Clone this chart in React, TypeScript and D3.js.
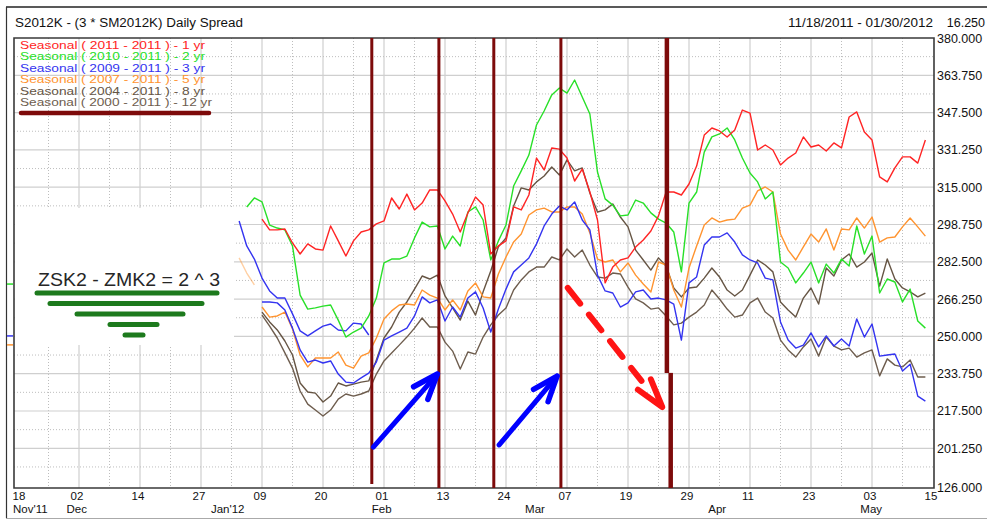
import { useEffect, useRef } from 'react'
import * as d3 from 'd3'

const WIDTH = 987
const HEIGHT = 520
const FONT = "'Liberation Sans', Arial, sans-serif"

// x axis: one label every 8 trading days
const xTickLabels = ['18', '02', '14', '27', '09', '20', '01', '13', '24', '07', '19', '29', '11', '23', '03', '15']
const xTickStep = 8
const monthLabels = [
  { label: "Nov'11", at: 0 },
  { label: 'Dec', at: 7.7 },
  { label: "Jan'12", at: 27.5 },
  { label: 'Feb', at: 47.7 },
  { label: 'Mar', at: 67.8 },
  { label: 'Apr', at: 91.7 },
  { label: 'May', at: 111.9 },
]
const yTicks = [380, 363.75, 347.5, 331.25, 315, 298.75, 282.5, 266.25, 250, 233.75, 217.5, 201.25]
const yBottomLabel = '126.000'

// seasonal series, one value per trading day, starting at the given index
const seasonal1yr = [
  301.1, 296.4, 296.4, 296.8, 290.7, 285.9, 290.3, 288.1, 287.6, 298.1,
  291.6, 285.0, 291.6, 295.5, 296.4, 299.0, 300.3, 310.3, 305.5, 312.0,
  305.1, 308.1, 313.8, 313.8, 309.0, 303.3, 295.5, 303.8, 310.7, 307.2,
  285.9, 289.4, 291.6, 306.4, 305.1, 311.6, 327.7, 322.5, 332.1, 331.6,
  327.7, 317.7, 322.9, 312.9, 300.7, 273.3, 280.2, 283.3, 284.2, 288.9,
  292.0, 295.9, 302.5, 312.9, 312.9, 311.6, 316.4, 324.2, 337.7, 340.8,
  339.5, 336.9, 339.9, 348.6, 347.3, 331.2, 333.4, 331.2, 324.7, 327.7,
  329.9, 336.9, 332.5, 333.4, 330.8, 334.3, 332.1, 345.6, 347.8, 339.0,
  335.6, 319.5, 317.3, 323.4, 328.2, 328.2, 325.5, 335.6,
]
const seasonal2yr = [
  306.4, 310.3, 308.6, 298.5, 297.2, 296.4, 289.4, 268.0, 261.9, 262.4,
  263.2, 263.7, 257.1, 249.7, 251.9, 253.6, 258.9, 266.7, 282.0, 283.7,
  283.7, 285.0, 292.9, 299.8, 297.7, 298.1, 288.1, 293.7, 289.4, 304.2,
  306.4, 300.7, 283.3, 291.6, 298.5, 315.5, 322.1, 329.0, 342.1, 348.2,
  355.2, 358.2, 356.0, 361.7, 354.3, 346.9, 321.6, 309.9, 307.2, 302.5,
  302.9, 309.4, 308.1, 303.8, 301.1, 299.4, 295.5, 278.1, 308.1, 312.9,
  330.3, 336.9, 338.2, 340.8, 335.6, 327.7, 321.2, 317.3, 309.9, 312.9,
  282.4, 279.8, 273.3, 277.6, 282.4, 273.3, 281.5, 277.6, 283.7, 280.7,
  298.1, 285.9, 293.7, 268.9, 275.0, 273.7, 265.0, 270.6, 256.7, 253.6,
]
const seasonal3yr = [
  265.0, 265.0, 264.6, 261.5, 253.6, 244.1, 238.8, 239.7, 238.4, 239.3,
  233.6, 230.1, 229.7, 231.9, 234.0, 238.8, 248.4, 250.2, 251.9, 253.6,
  258.9, 267.2, 264.6, 265.9, 256.7, 262.8, 258.4, 266.7, 269.4, 262.4,
  251.9, 261.9, 270.6, 278.1, 281.1, 284.2, 290.3, 298.1, 303.3, 306.8,
  305.1, 308.6, 300.7, 296.4, 276.7, 269.8, 268.9, 262.8, 264.6, 269.4,
  270.2, 266.3, 266.7, 265.9, 264.1, 248.4, 273.3, 275.9, 289.8, 293.3,
  293.3, 295.1, 291.1, 285.5, 283.3, 282.0, 275.4, 274.6, 256.3, 248.4,
  244.9, 246.2, 251.5, 245.4, 250.2, 245.8, 248.9, 245.8, 257.6, 249.7,
  255.4, 241.4, 241.9, 242.3, 234.9, 237.9, 224.0, 221.8,
]
const seasonal5yr = [
  262.8, 258.4, 258.9, 260.6, 253.2, 241.9, 236.7, 240.6, 240.6, 240.6,
  243.2, 237.5, 236.2, 241.4, 242.8, 249.3, 257.6, 261.1, 263.7, 264.1,
  263.7, 270.2, 268.0, 266.7, 261.5, 265.9, 261.5, 269.8, 273.3, 267.2,
  266.7, 277.2, 284.6, 291.1, 294.6, 302.9, 305.1, 305.9, 304.2, 304.2,
  306.4, 306.4, 303.3, 295.1, 283.7, 282.4, 283.3, 278.1, 282.0, 276.7,
  272.8, 269.3, 282.4, 281.1, 270.2, 262.8, 279.8, 289.4, 298.5, 301.6,
  299.8, 300.7, 301.1, 305.9, 307.2, 313.4, 315.1, 312.9, 294.6, 287.6,
  283.3, 289.0, 294.6, 291.1, 296.8, 287.6, 296.8, 296.4, 301.6, 297.2,
  302.0, 291.1, 292.9, 293.3, 297.7, 301.6, 297.7, 293.7,
]
const seasonal8yr = [
  260.6, 256.3, 252.8, 248.0, 241.9, 229.7, 225.8, 225.3, 221.4, 224.0,
  229.7, 228.4, 229.2, 230.1, 230.6, 239.7, 249.3, 254.1, 260.6, 265.0,
  270.6, 276.3, 275.0, 276.7, 267.6, 262.4, 257.1, 265.4, 259.3, 269.4,
  278.5, 289.0, 292.9, 306.8, 314.7, 313.8, 317.3, 319.9, 323.8, 320.3,
  326.9, 322.1, 323.4, 312.5, 304.2, 305.1, 307.7, 302.0, 297.7, 287.6,
  283.3, 278.9, 284.2, 280.7, 271.1, 267.2, 271.1, 271.5, 275.4, 279.8,
  275.9, 270.2, 267.6, 270.2, 276.7, 283.3, 281.1, 278.1, 265.0, 261.5,
  258.4, 266.7, 271.1, 264.1, 279.8, 276.3, 283.3, 285.9, 280.2, 282.4,
  286.3, 271.9, 283.7, 275.0, 271.1, 269.4, 267.2, 268.9,
]
const seasonal12yr = [
  259.3, 254.5, 249.3, 242.8, 236.2, 226.2, 220.5, 217.9, 215.3, 217.9,
  222.7, 224.9, 224.0, 224.9, 226.2, 233.6, 239.3, 242.8, 246.2, 249.7,
  253.6, 258.0, 254.1, 254.1, 247.5, 243.6, 235.8, 243.2, 242.3, 249.7,
  255.0, 259.3, 262.4, 270.2, 274.6, 278.1, 280.2, 280.2, 284.6, 283.3,
  288.1, 284.6, 287.6, 281.1, 275.9, 275.4, 277.6, 277.2, 271.5, 266.3,
  264.6, 261.9, 262.4, 258.9, 255.0, 255.8, 258.4, 260.6, 263.7, 270.2,
  266.3, 261.9, 258.4, 259.3, 264.6, 266.7, 260.6, 258.0, 248.4, 244.1,
  241.0, 245.4, 248.9, 241.4, 249.7, 245.8, 244.1, 244.9, 241.0, 242.8,
  244.1, 232.8, 240.2, 237.5, 236.7, 239.7, 232.3, 232.3,
]
// fragments left over from the pasted screenshot
const ghost3yr = [300.3, 289.4, 283.7, 275.4, 269.8, 266.7, 266.7, 259.8, 252.4, 250.2, 252.4, 254.5, 255.4, 252.8, 252.4, 255.8, 255.4, 250.6]
const ghost5yr = [284.2, 277.6, 272.4]

const series = [
  { label: 'Seasonal ( 2011 - 2011 ) - 1 yr', color: '#ff2424', start: 32, values: seasonal1yr },
  { label: 'Seasonal ( 2010 - 2011 ) - 2 yr', color: '#28e028', start: 30, values: seasonal2yr },
  { label: 'Seasonal ( 2009 - 2011 ) - 3 yr', color: '#3434f0', start: 32, values: seasonal3yr },
  { label: 'Seasonal ( 2007 - 2011 ) - 5 yr', color: '#ff9430', start: 32, values: seasonal5yr },
  { label: 'Seasonal ( 2004 - 2011 ) - 8 yr', color: '#665544', start: 32, values: seasonal8yr },
  { label: 'Seasonal ( 2000 - 2011 ) - 12 yr', color: '#6e5d4e', start: 32, values: seasonal12yr },
]

// hand-drawn annotations (trading-day index, price)
const markerIdx = [46.4, 55.2, 62.4, 71.2]
const lastMarker = { upperIdx: 85.1, lowerIdx: 85.6, breakAt: 234.1 }
const blueArrows = [
  { from: [46.6, 201.8], to: [55.0, 233.6] },
  { from: [63.1, 202.7], to: [70.7, 232.7] },
]
const redArrow = { from: [72.1, 271.1], to: [84.5, 219.2] }
const edgeMarks = [
  { value: 272.8, color: '#28e028' },
  { value: 250.2, color: '#3434f0' },
  { value: 246.3, color: '#ff9430' },
]
const noteText = 'ZSK2 - ZMK2 = 2 ^ 3'
const noteBars = [
  [37, 217],
  [50, 202],
  [77, 183],
  [110, 157],
  [125, 143],
]

export default function App() {
  const svgRef = useRef<SVGSVGElement>(null)

  useEffect(() => {
    if (!svgRef.current) return
    const svg = d3.select(svgRef.current)
    svg.selectAll('*').remove()

    const plot = { left: 14, right: 934, top: 38, bottom: 488 }
    const x = d3.scaleLinear().domain([0, 120]).range([18, 933])
    const y = d3.scaleLinear().domain([183.95, 380]).range([plot.bottom, plot.top])

    svg.append('rect').attr('width', WIDTH).attr('height', HEIGHT).attr('fill', '#fff')

    // outer frame
    svg.append('line').attr('x1', 6).attr('x2', WIDTH).attr('y1', 7).attr('y2', 7)
      .attr('stroke', '#222').attr('stroke-width', 1.5)
    svg.append('line').attr('x1', 6.5).attr('x2', 6.5).attr('y1', 7).attr('y2', 518)
      .attr('stroke', '#333').attr('stroke-width', 1.2)
    svg.append('line').attr('x1', 6).attr('x2', WIDTH).attr('y1', 518.5).attr('y2', 518.5)
      .attr('stroke', '#aaa').attr('stroke-width', 1)

    // titles
    svg.append('text').attr('x', 15).attr('y', 27).attr('font-size', 12.5).attr('font-family', FONT)
      .attr('fill', '#111').attr('textLength', 228).attr('lengthAdjust', 'spacingAndGlyphs')
      .text('S2012K - (3 * SM2012K) Daily  Spread')
    svg.append('text').attr('x', 788).attr('y', 27).attr('font-size', 12.5).attr('font-family', FONT)
      .attr('fill', '#111').attr('textLength', 145).attr('lengthAdjust', 'spacingAndGlyphs')
      .text('11/18/2011 - 01/30/2012')
    svg.append('text').attr('x', 985).attr('y', 27).attr('font-size', 12.5).attr('font-family', FONT)
      .attr('text-anchor', 'end').attr('fill', '#111').text('16.250')

    const defs = svg.append('defs')
    defs.append('clipPath').attr('id', 'plot-clip').append('rect')
      .attr('x', plot.left).attr('y', plot.top)
      .attr('width', plot.right - plot.left).attr('height', plot.bottom - plot.top)

    // grid
    const grid = svg.append('g')
    d3.range(1, xTickLabels.length - 1).forEach((k) => {
      const gx = x(k * xTickStep)
      grid.append('line').attr('x1', gx).attr('x2', gx).attr('y1', plot.top).attr('y2', plot.bottom)
        .attr('stroke', '#cfcfcf').attr('stroke-width', 1.2)
    })
    d3.range(0, xTickLabels.length - 1).forEach((k) => {
      const gx = x(k * xTickStep + xTickStep / 2)
      grid.append('line').attr('x1', gx).attr('x2', gx).attr('y1', plot.top).attr('y2', plot.bottom)
        .attr('stroke', '#bdbdbd').attr('stroke-dasharray', '1,2')
    })
    yTicks.forEach((t, i) => {
      if (i > 0) {
        grid.append('line').attr('x1', plot.left).attr('x2', plot.right).attr('y1', y(t)).attr('y2', y(t))
          .attr('stroke', '#cfcfcf').attr('stroke-width', 1.2)
      }
      const m = t - 8.125
      grid.append('line').attr('x1', plot.left).attr('x2', plot.right).attr('y1', y(m)).attr('y2', y(m))
        .attr('stroke', '#bdbdbd').attr('stroke-dasharray', '1,2')
    })

    // pasted note covering the left part of the plot
    svg.append('rect').attr('x', plot.left + 1).attr('y', 208).attr('width', 219).attr('height', 137).attr('fill', '#fff')
    svg.append('text').attr('x', 38).attr('y', 286).attr('font-size', 18).attr('font-family', FONT)
      .attr('fill', '#262626').attr('textLength', 182).attr('lengthAdjust', 'spacingAndGlyphs').text(noteText)
    noteBars.forEach(([x1, x2], i) => {
      const by = 293 + i * 10.5
      svg.append('line').attr('x1', x1).attr('x2', x2).attr('y1', by).attr('y2', by)
        .attr('stroke', '#1d7a1d').attr('stroke-width', 5).attr('stroke-linecap', 'round')
    })

    // series
    const lines = svg.append('g').attr('clip-path', 'url(#plot-clip)')
    const drawSeries = (values: number[], start: number, color: string, opacity = 1) => {
      const line = d3.line<number>().x((_, i) => x(start + i)).y((d) => y(d))
      lines.append('path').attr('d', line(values)).attr('fill', 'none').attr('stroke', color)
        .attr('stroke-width', 1.4).attr('stroke-linejoin', 'round').attr('opacity', opacity)
    }
    drawSeries(ghost5yr, 29, series[3].color, 0.45)
    drawSeries(ghost3yr, 29, series[2].color)
    series.slice().reverse().forEach((s) => drawSeries(s.values, s.start, s.color))

    // left edge marks
    edgeMarks.forEach((m) => {
      svg.append('line').attr('x1', 7).attr('x2', 13).attr('y1', y(m.value)).attr('y2', y(m.value))
        .attr('stroke', m.color).attr('stroke-width', 1.5)
    })

    // plot frame
    svg.append('path')
      .attr('d', `M${plot.left},${plot.bottom}V${plot.top}H${plot.right}V${plot.bottom}Z`)
      .attr('fill', 'none').attr('stroke', '#3a3a3a').attr('stroke-width', 1.6)

    // legend
    series.forEach((s, i) => {
      svg.append('text').attr('x', 20).attr('y', 49 + i * 11.4).attr('font-size', 11)
        .attr('font-family', FONT).attr('fill', s.color)
        .attr('textLength', i === series.length - 1 ? 192 : 185).attr('lengthAdjust', 'spacingAndGlyphs')
        .text(s.label)
    })
    svg.append('line').attr('x1', 21).attr('x2', 209).attr('y1', 113).attr('y2', 113)
      .attr('stroke', '#7d0a0a').attr('stroke-width', 4.5).attr('stroke-linecap', 'round')

    // vertical markers
    markerIdx.forEach((m, i) => {
      svg.append('line').attr('x1', x(m)).attr('x2', x(m)).attr('y1', plot.top)
        .attr('y2', i === 0 ? plot.bottom - 4 : plot.bottom)
        .attr('stroke', '#7d0a0a').attr('stroke-width', 3)
    })
    svg.append('line').attr('x1', x(lastMarker.upperIdx)).attr('x2', x(lastMarker.upperIdx))
      .attr('y1', plot.top).attr('y2', y(lastMarker.breakAt))
      .attr('stroke', '#7d0a0a').attr('stroke-width', 4.5)
    svg.append('line').attr('x1', x(lastMarker.lowerIdx)).attr('x2', x(lastMarker.lowerIdx))
      .attr('y1', y(lastMarker.breakAt)).attr('y2', plot.bottom)
      .attr('stroke', '#7d0a0a').attr('stroke-width', 4.5)

    // arrows
    const head = (tip: number[], from: number[], len: number, ang: number) => {
      const a = Math.atan2(tip[1] - from[1], tip[0] - from[0])
      const p1 = [tip[0] - len * Math.cos(a - ang), tip[1] - len * Math.sin(a - ang)]
      const p2 = [tip[0] - len * Math.cos(a + ang), tip[1] - len * Math.sin(a + ang)]
      return `M${p1[0]},${p1[1]}L${tip[0]},${tip[1]}L${p2[0]},${p2[1]}`
    }
    blueArrows.forEach((ar) => {
      const p0 = [x(ar.from[0]), y(ar.from[1])]
      const p1 = [x(ar.to[0]), y(ar.to[1])]
      svg.append('line').attr('x1', p0[0]).attr('y1', p0[1]).attr('x2', p1[0]).attr('y2', p1[1])
        .attr('stroke', '#0000ff').attr('stroke-width', 5).attr('stroke-linecap', 'round')
      svg.append('path').attr('d', head(p1, p0, 27, 0.36)).attr('fill', 'none')
        .attr('stroke', '#0000ff').attr('stroke-width', 5.5).attr('stroke-linecap', 'round').attr('stroke-linejoin', 'round')
    })
    {
      const p0 = [x(redArrow.from[0]), y(redArrow.from[1])]
      const p1 = [x(redArrow.to[0]), y(redArrow.to[1])]
      const pe = [p0[0] + (p1[0] - p0[0]) * 0.78, p0[1] + (p1[1] - p0[1]) * 0.78]
      svg.append('line').attr('x1', p0[0]).attr('y1', p0[1]).attr('x2', pe[0]).attr('y2', pe[1])
        .attr('stroke', '#ff1414').attr('stroke-width', 6).attr('stroke-linecap', 'round')
        .attr('stroke-dasharray', '20,14')
      svg.append('path').attr('d', head(p1, p0, 30, 0.28)).attr('fill', 'none')
        .attr('stroke', '#ff1414').attr('stroke-width', 6).attr('stroke-linecap', 'round').attr('stroke-linejoin', 'round')
    }

    // y labels
    yTicks.forEach((t) => {
      svg.append('text').attr('x', 937).attr('y', y(t) + 4.5).attr('font-size', 12.5).attr('font-family', FONT)
        .attr('fill', '#111').text(t.toFixed(3))
    })
    svg.append('text').attr('x', 937).attr('y', plot.bottom + 4).attr('font-size', 12.5).attr('font-family', FONT)
      .attr('fill', '#111').text(yBottomLabel)

    // x labels
    xTickLabels.forEach((l, k) => {
      svg.append('text').attr('x', x(k * xTickStep) - (k === 0 ? -1 : 2)).attr('y', 500)
        .attr('text-anchor', 'middle').attr('font-size', 11.5).attr('font-family', FONT).attr('fill', '#111').text(l)
    })
    monthLabels.forEach((m, k) => {
      svg.append('text').attr('x', k === 0 ? 13 : x(m.at)).attr('y', 513)
        .attr('text-anchor', k === 0 ? 'start' : 'middle').attr('font-size', 11.5).attr('font-family', FONT)
        .attr('fill', '#111').text(m.label)
    })
  }, [])

  return (
    <svg ref={svgRef} width={WIDTH} height={HEIGHT}
      style={{ position: 'absolute', left: 0, top: 0, display: 'block' }} />
  )
}
